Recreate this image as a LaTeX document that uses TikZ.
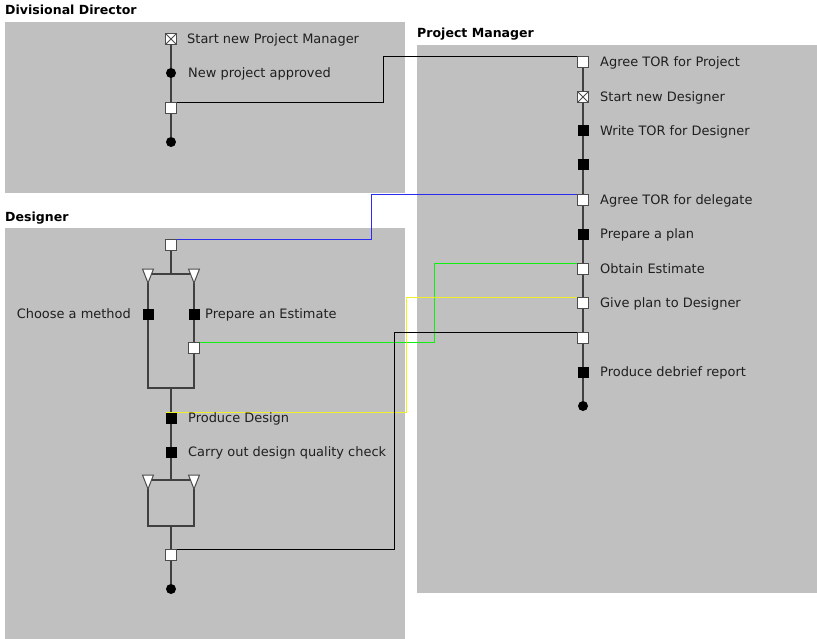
\documentclass[tikz,border=0pt]{standalone}
\usepackage{fontspec}
\setmainfont{DejaVu Sans}
\usetikzlibrary{positioning,shapes.geometric,calc,backgrounds}
\definecolor{lanegray}{HTML}{C0C0C0}
\definecolor{bluelink}{HTML}{2B2BF2}
\definecolor{greenlink}{HTML}{10F010}
\definecolor{yellowlink}{HTML}{F0F028}

\begin{document}
\begin{tikzpicture}[x=1bp,y=-1bp,
  ttl/.style={anchor=base west,inner sep=0pt,font=\bfseries\fontsize{12.6}{14}\selectfont},
  lbl/.style={anchor=base west,inner sep=0pt,text=black!88,font=\fontsize{13}{15}\selectfont},
  act/.style={rectangle,fill=black,minimum size=11bp,inner sep=0pt,outer sep=0pt},
  pass/.style={rectangle,draw=black!70,line width=1bp,fill=white,minimum size=11bp,inner sep=0pt,outer sep=0pt},
  spawn/.style={pass,path picture={\draw[black!70]
      (path picture bounding box.north west)--(path picture bounding box.south east)
      (path picture bounding box.north east)--(path picture bounding box.south west);}},
  endpt/.style={circle,fill=black,minimum size=10bp,inner sep=0pt},
  fork/.style={rectangle,inner sep=0pt,outer sep=0pt,minimum width=11bp,minimum height=14bp},
  forkmark/.style={draw=black!70,line width=1bp,fill=white},
  flow/.style={draw=black!75,line width=1.2bp},
  link/.style={line width=1bp},
  clink/.style={line width=1.4bp}]
\useasboundingbox (0,0) rectangle (817,639);

% swimlanes
\begin{scope}[on background layer]
\fill[lanegray] (5,22) rectangle (405,193);
\fill[lanegray] (417,45) rectangle (817,593);
\fill[lanegray] (5,228) rectangle (405,639);
\end{scope}
\node[ttl] (ddTitle) at (5,15) {Divisional Director};
\node[ttl] (pmTitle) at (417,38) {Project Manager};
\node[ttl] (dsTitle) at (5,222) {Designer};

% Divisional Director
\node[spawn] (ddStart) at (171,39) {};
\node[endpt] (ddApproved) at (171,73) {};
\node[pass] (ddSend) at (171,108) {};
\node[endpt] (ddEnd) at (171,142) {};
\node[lbl] (ddStartL) at ($(ddStart)+(16,4.5)$) {Start new Project Manager};
\node[lbl] (ddApprovedL) at ($(ddApproved)+(17,4.5)$) {New project approved};

% Project Manager
\node[pass] (pmAgree) at (583,62) {};
\node[spawn] (pmSpawn) at (583,97) {};
\node[act] (pmWrite) at (583,131) {};
\node[act] (pmWait) at (583,165) {};
\node[pass] (pmDelegate) at (583,200) {};
\node[act] (pmPlan) at (583,234) {};
\node[pass] (pmEstimate) at (583,269) {};
\node[pass] (pmGive) at (583,303) {};
\node[pass] (pmCollect) at (583,338) {};
\node[act] (pmDebrief) at (583,372) {};
\node[endpt] (pmEnd) at (583,406) {};
\node[lbl] (pmAgreeL) at ($(pmAgree)+(17,4.5)$) {Agree TOR for Project};
\node[lbl] (pmSpawnL) at ($(pmSpawn)+(17,4.5)$) {Start new Designer};
\node[lbl] (pmWriteL) at ($(pmWrite)+(17,4.5)$) {Write TOR for Designer};
\node[lbl] (pmDelegateL) at ($(pmDelegate)+(17,4.5)$) {Agree TOR for delegate};
\node[lbl] (pmPlanL) at ($(pmPlan)+(17,4.5)$) {Prepare a plan};
\node[lbl] (pmEstimateL) at ($(pmEstimate)+(17,4.5)$) {Obtain Estimate};
\node[lbl] (pmGiveL) at ($(pmGive)+(17,4.5)$) {Give plan to Designer};
\node[lbl] (pmDebriefL) at ($(pmDebrief)+(17,4.5)$) {Produce debrief report};

% Designer
\coordinate (split1) at (171,274);
\coordinate (merge1) at (171,388);
\coordinate (split2) at (171,480);
\coordinate (merge2) at (171,526);
\node[pass] (dsStart) at (171,245) {};
\node[fork] (fork1L) at ($(split1)+(-23,2)$) {};
\node[fork] (fork1R) at ($(split1)+(23,2)$) {};
\node[act] (dsMethod) at (148,314) {};
\node[act] (dsEstimate) at (194,314) {};
\node[pass] (dsReply) at (194,348) {};
\node[act] (dsProduce) at (171,418) {};
\node[act] (dsCheck) at (171,452) {};
\node[fork] (fork2L) at ($(split2)+(-23,2)$) {};
\node[fork] (fork2R) at ($(split2)+(23,2)$) {};
\node[pass] (dsDone) at (171,555) {};
\node[endpt] (dsEnd) at (171,589) {};
\node[lbl,anchor=base east] (dsMethodL) at ($(dsMethod)+(-17,4.5)$) {Choose a method};
\node[lbl] (dsEstimateL) at ($(dsEstimate)+(11,4.5)$) {Prepare an Estimate};
\node[lbl] (dsProduceL) at ($(dsProduce)+(17,4.5)$) {Produce Design};
\node[lbl] (dsCheckL) at ($(dsCheck)+(17,4.5)$) {Carry out design quality check};
\foreach \f in {fork1L,fork1R,fork2L,fork2R}
  \draw[forkmark] (\f.north west) -- (\f.north east) -- (\f.south) -- cycle;

% threads and links behind the nodes
\begin{scope}[on background layer]
\draw[flow] (ddStart) -- (ddEnd);
\draw[flow] (pmAgree) -- (pmEnd);
\draw[flow] (dsStart) -- (split1);
\draw[flow] (fork1L.center |- split1) -- (fork1R.center |- split1);
\draw[flow] (fork1L.center) -- (dsMethod) -- (dsMethod |- merge1) -- (dsReply |- merge1) -- (dsReply) -- (fork1R.center);
\draw[flow] (merge1) -- (dsProduce) -- (dsCheck) -- (split2);
\draw[flow] (fork2L.center |- split2) -- (fork2R.center |- split2);
\draw[flow] (fork2L.center) -- (fork2L |- merge2) -- (fork2R |- merge2) -- (fork2R.center);
\draw[flow] (merge2) -- (dsEnd);
\draw[link] (ddSend.north east) -| (383.5,80) |- (pmAgree.north west);
\draw[clink,bluelink] (dsStart.north west) -| (371.5,215) |- (pmDelegate.north west);
\draw[clink,greenlink] (dsReply.north east) -| (434.5,300) |- (pmEstimate.north west);
\draw[clink,yellowlink] (dsProduce.north west) -| (406.5,350) |- (pmGive.north west);
\draw[link] (dsDone.north east) -| (394.5,440) |- (pmCollect.north west);
\end{scope}
\end{tikzpicture}
\end{document}
